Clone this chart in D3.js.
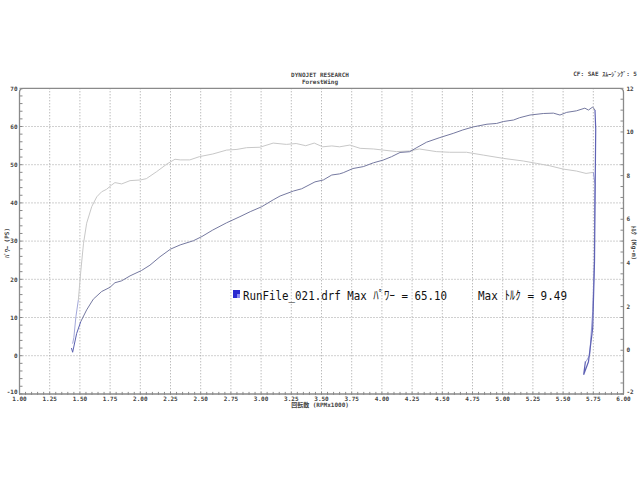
<!DOCTYPE html>
<html><head><meta charset="utf-8">
<script src="https://cdn.jsdelivr.net/npm/d3@7/dist/d3.min.js"></script>
<style>
html,body{margin:0;padding:0;background:#fff;}
svg{display:block;}
text{font-family:"DejaVu Sans Mono","Noto Sans CJK JP",monospace;}
</style></head>
<body>
<script>
// ---- data ----
const xTicks = [1.00,1.25,1.50,1.75,2.00,2.25,2.50,2.75,3.00,3.25,3.50,3.75,4.00,4.25,4.50,4.75,5.00,5.25,5.50,5.75,6.00];
const psTicks = [70,60,50,40,30,20,10,0,-10];
const tqTicks = [12,10,8,6,4,2,0,-2];

const powerStartRpm = [1.43,1.44,1.473,1.507];
const powerStartPs  = [2.0,0.9,5.8,8.9];

const powerRpm = [1.507,1.556,1.611,1.68,1.749,1.79,1.846,1.915,2.01,2.08,2.163,2.25,2.33,2.44,2.51,2.60,2.715,2.825,2.91,3.005,3.10,3.157,3.267,3.336,3.446,3.515,3.585,3.65,3.68,3.76,3.846,3.93,4.01,4.08,4.15,4.23,4.29,4.37,4.48,4.59,4.67,4.757,4.87,4.95,5.005,5.09,5.14,5.226,5.336,5.42,5.474,5.53,5.61,5.68,5.71,5.745,5.764];
const powerPs  = [8.9,12.0,14.8,16.8,17.9,19.1,19.6,20.9,22.3,23.7,25.9,27.9,29.0,30.1,31.2,32.9,34.8,36.4,37.7,39.0,40.8,41.8,43.1,43.7,45.5,46.0,47.3,47.6,47.9,49.0,49.5,50.5,51.2,52.1,53.2,53.4,54.5,55.9,57.1,58.2,59.1,59.9,60.6,60.8,61.3,61.7,62.3,63.0,63.4,63.5,63.0,63.7,64.1,64.8,64.3,65.1,64.3];

const powerEndRpm = [5.764,5.77,5.765,5.76,5.745,5.71,5.67,5.685];
const powerEndPs  = [64.3,59.4,42.0,24.6,7.2,-1.6,-5.0,-1.5];

const torqueStartRpm = [1.44,1.45,1.467,1.487];
const torqueStartTq  = [0.3,0.59,1.54,2.30];

const torqueRpm = [1.487,1.507,1.53,1.556,1.598,1.64,1.68,1.72,1.763,1.79,1.846,1.915,2.0,2.05,2.135,2.22,2.287,2.33,2.41,2.49,2.60,2.715,2.80,2.88,2.99,3.10,3.21,3.29,3.37,3.44,3.51,3.585,3.65,3.735,3.82,3.93,4.01,4.12,4.23,4.31,4.45,4.56,4.70,4.84,5.005,5.17,5.28,5.39,5.50,5.61,5.69,5.75];
const torqueTq  = [2.30,3.6,4.9,5.82,6.58,7.03,7.26,7.37,7.57,7.68,7.62,7.77,7.8,7.86,8.18,8.53,8.75,8.72,8.72,8.87,8.99,9.17,9.2,9.28,9.3,9.49,9.43,9.47,9.37,9.49,9.32,9.36,9.32,9.40,9.25,9.22,9.17,9.1,9.13,9.22,9.1,9.07,9.07,8.94,8.79,8.67,8.56,8.45,8.30,8.21,8.1,8.15];

const torqueEndRpm = [5.75,5.764,5.762,5.758,5.745,5.72,5.69];
const torqueEndTq  = [8.15,7.6,7.11,4.06,1.77,-0.22,-0.52];

const legendText1 = "RunFile_021.drf Max ﾊﾟﾜｰ = 65.10";
const legendText2 = "Max ﾄﾙｸ = 9.49";

// ---- layout ----
const W=640,H=480;
const L=19.5,R=623.5,T=88.3,B=393.9;
const svg=d3.select("body").append("svg").attr("width",W).attr("height",H);

const x=d3.scaleLinear().domain([1,6]).range([L,R]);
const yP=d3.scaleLinear().domain([-10,70]).range([B,T]);
const yT=d3.scaleLinear().domain([-2,12]).range([B,T]);

const grid="#a0a0a0";
// vertical grid
svg.append("g").selectAll("line").data(xTicks.slice(1,-1)).join("line")
  .attr("x1",d=>x(d)).attr("x2",d=>x(d)).attr("y1",T).attr("y2",B)
  .attr("stroke",grid).attr("stroke-width",1).attr("stroke-dasharray","1,2");
// horizontal grid
svg.append("g").selectAll("line").data(psTicks.slice(1,-1)).join("line")
  .attr("x1",L).attr("x2",R).attr("y1",d=>yP(d)).attr("y2",d=>yP(d))
  .attr("stroke",grid).attr("stroke-width",1).attr("stroke-dasharray","1,2");

// frame: top with rounded corners, left and right axes
const r=4;
svg.append("path")
  .attr("d",`M${L},${B} L${L},${T+r} Q${L},${T} ${L+r},${T} L${R-r},${T} Q${R},${T} ${R},${T+r} L${R},${B}`)
  .attr("fill","none").attr("stroke","#8a8a8a").attr("stroke-width",1.3);

// bottom axis: thick tick-dense line
const minorX=d3.range(0,101).map(i=>1+i*0.05);
svg.append("line").attr("x1",L).attr("x2",R).attr("y1",B).attr("y2",B)
  .attr("stroke","#888").attr("stroke-width",1.5);
svg.append("g").selectAll("line").data(minorX).join("line")
  .attr("x1",d=>x(d)).attr("x2",d=>x(d)).attr("y1",B-2).attr("y2",B+1)
  .attr("stroke","#888").attr("stroke-width",1);

// left minor ticks
svg.append("g").selectAll("line").data(d3.range(-10,71,2)).join("line")
  .attr("x1",L).attr("x2",L+3).attr("y1",d=>yP(d)).attr("y2",d=>yP(d))
  .attr("stroke","#888").attr("stroke-width",1);
// right minor ticks
svg.append("g").selectAll("line").data(d3.range(-2,12.01,0.5)).join("line")
  .attr("x1",R-3).attr("x2",R).attr("y1",d=>yT(d)).attr("y2",d=>yT(d))
  .attr("stroke","#888").attr("stroke-width",1);

// tick labels
const tf={"font-size":"6px","font-weight":"bold",fill:"#444"};
function sty(sel){for(const k in tf)sel.attr(k,tf[k]);return sel;}
sty(svg.append("g").selectAll("text").data(psTicks).join("text")
  .attr("x",L-2).attr("y",d=>yP(d)+(d===-10?0:2.2)).attr("text-anchor","end").text(d=>d));
sty(svg.append("g").selectAll("text").data(tqTicks).join("text")
  .attr("x",R+3).attr("y",d=>yT(d)+(d===-2?0:2.2)).attr("text-anchor","start").text(d=>d));
sty(svg.append("g").selectAll("text").data(xTicks).join("text")
  .attr("x",d=>x(d)).attr("y",B+7).attr("text-anchor","middle").text(d=>d.toFixed(2)));

// titles
sty(svg.append("text").attr("x",320).attr("y",77).attr("text-anchor","middle").text("DYNOJET  RESEARCH"));
sty(svg.append("text").attr("x",320).attr("y",84).attr("text-anchor","middle").text("ForestWing"));
sty(svg.append("text").attr("x",637).attr("y",76).attr("text-anchor","end").text("CF: SAE  ｽﾑｰｼﾞﾝｸﾞ: 5"));
sty(svg.append("text").attr("x",320).attr("y",B+13.5).attr("text-anchor","middle").text("回転数 (RPMx1000)"));
sty(svg.append("text").attr("transform","translate(9,243) rotate(-90)").attr("text-anchor","middle").text("ﾊﾟﾜｰ (PS)"));
sty(svg.append("text").attr("transform","translate(632,243) rotate(90)").attr("text-anchor","middle").text("ﾄﾙｸ (Kg-m)"));

// curves
const lineP=d3.line().x(d=>x(d[0])).y(d=>yP(d[1])).curve(d3.curveLinear);
const lineT=d3.line().x(d=>x(d[0])).y(d=>yT(d[1])).curve(d3.curveLinear);
const zip=(a,b)=>a.map((v,i)=>[v,b[i]]);

svg.append("path").attr("d",lineT(zip(torqueRpm,torqueTq)))
  .attr("fill","none").attr("stroke","#c8c8c8").attr("stroke-width",1);
svg.append("path").attr("d",lineP(zip(powerRpm,powerPs)))
  .attr("fill","none").attr("stroke","#7579a0").attr("stroke-width",1);

svg.append("path").attr("d",lineT(zip(torqueStartRpm,torqueStartTq)))
  .attr("fill","none").attr("stroke","#a3a8da").attr("stroke-width",1);
svg.append("path").attr("d",lineP(zip(powerStartRpm,powerStartPs)))
  .attr("fill","none").attr("stroke","#5a60b0").attr("stroke-width",1);
svg.append("path").attr("d",lineT(zip(torqueEndRpm,torqueEndTq)))
  .attr("fill","none").attr("stroke","#979bd4").attr("stroke-width",1);
svg.append("path").attr("d",lineP(zip(powerEndRpm,powerEndPs)))
  .attr("fill","none").attr("stroke","#5f62b4").attr("stroke-width",1.2);

// legend
svg.append("rect").attr("x",233).attr("y",290).attr("width",7).attr("height",8).attr("fill","#2a2ad0");
svg.append("rect").attr("x",237).attr("y",294).attr("width",3).attr("height",4).attr("fill","#8a8af0");
svg.append("text").attr("x",243).attr("y",299.5).attr("font-size","12.5px")
  .attr("font-family","'Noto Sans CJK JP','DejaVu Sans Mono',monospace")
  .attr("textLength",204).attr("lengthAdjust","spacingAndGlyphs").attr("fill","#111").text(legendText1);
svg.append("text").attr("x",478).attr("y",299.5).attr("font-size","12.5px")
  .attr("font-family","'Noto Sans CJK JP','DejaVu Sans Mono',monospace")
  .attr("textLength",89).attr("lengthAdjust","spacingAndGlyphs").attr("fill","#111").text(legendText2);
</script>
</body></html>
